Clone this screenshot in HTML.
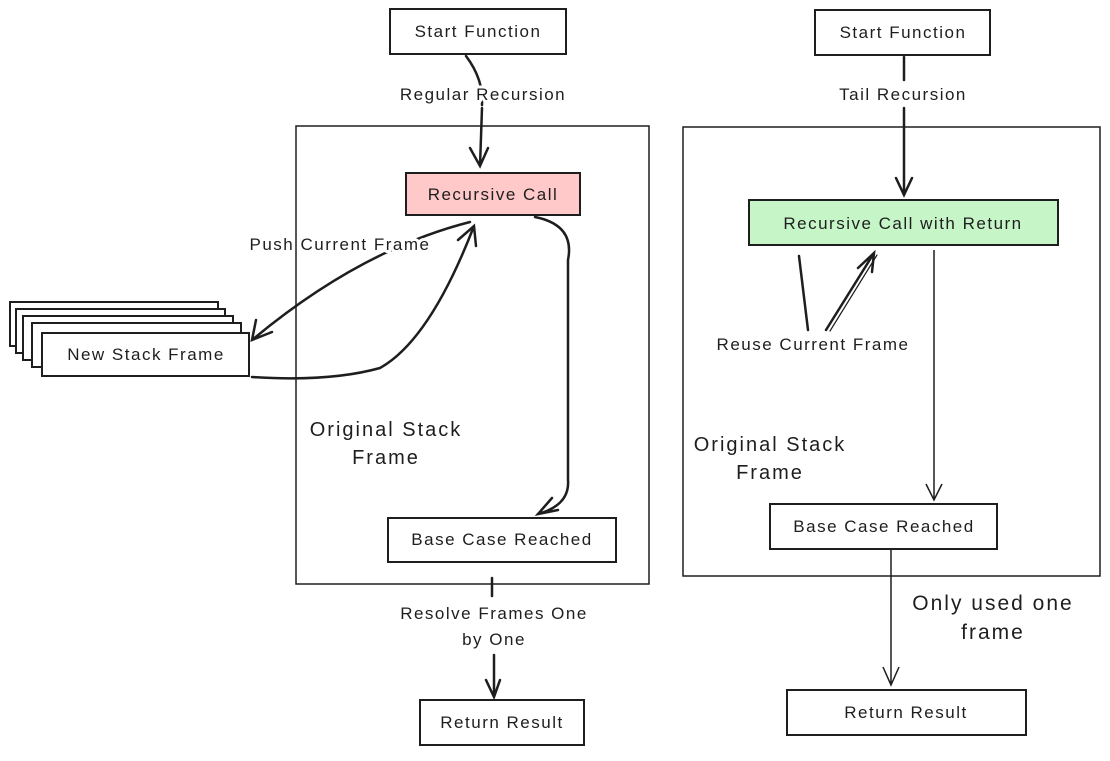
<!DOCTYPE html>
<html><head><style>
body{margin:0;background:#fff}
text{font-family:"Liberation Sans",sans-serif;fill:#1e1e1e;font-size:17px;letter-spacing:1.5px;text-anchor:middle}
.lbl{stroke:#fff;stroke-width:6px;paint-order:stroke;stroke-linejoin:round}
.big{font-size:20px;letter-spacing:2px}
</style></head><body>
<svg width="1110" height="756" viewBox="0 0 1110 756" xmlns="http://www.w3.org/2000/svg">
<g fill="#fff" stroke="#1e1e1e" stroke-width="2">
<rect x="296" y="126" width="353" height="458" fill="none" stroke-width="1.5"/>
<rect x="683" y="127" width="417" height="449" fill="none" stroke-width="1.5"/>
<rect x="390" y="9" width="176" height="45"/>
<rect x="406" y="173" width="174" height="42" fill="#ffc9c9"/>
<rect x="10" y="302" width="208" height="44"/>
<rect x="16" y="309" width="209" height="44"/>
<rect x="23" y="316" width="210" height="44"/>
<rect x="32" y="323" width="209" height="44"/>
<rect x="42" y="333" width="207" height="43"/>
<rect x="388" y="518" width="228" height="44"/>
<rect x="420" y="700" width="164" height="45"/>
<rect x="815" y="10" width="175" height="45"/>
<rect x="749" y="200" width="309" height="45" fill="#c6f6c8"/>
<rect x="770" y="504" width="227" height="45"/>
<rect x="787" y="690" width="239" height="45"/>
</g>
<g fill="none" stroke="#1e1e1e" stroke-width="2.5" stroke-linecap="round">
<path d="M466 56 Q484 80 482 105"/><path d="M482 108 L480 166 M470 148 L480 166 L488 148"/>
<path d="M470 222 Q360 250 252 340 M256 320 L252 340 L272 332"/>
<path d="M252 377 Q330 382 380 368 Q430 340 474 226 M458 240 L474 226 L476 246"/>
<path d="M535 217 Q575 225 568 260 L568 480 Q570 505 538 514 M552 498 L538 514 L558 510"/>
<path d="M492 578 L492 596 M494 655 L494 697 M486 680 L494 697 L500 680"/>
<path d="M904 57 L904 80 M904 108 L904 195 M896 178 L904 195 L912 178"/>
<path d="M799 256 L808 330"/>
<path d="M826 330 L874 253 M858 268 L874 253 L872 272"/><path d="M830 331 L877 255" stroke-width="1.2"/>
</g>
<g fill="none" stroke="#1e1e1e" stroke-width="1.5">
<path d="M934 250 L934 500 M926 484 L934 500 L942 484"/>
<path d="M891 550 L891 685 M883 667 L891 685 L899 667"/>
</g>
<text x="478" y="37">Start Function</text>
<text class="lbl" x="483" y="100">Regular Recursion</text>
<text x="493" y="200">Recursive Call</text>
<text class="lbl" x="340" y="250">Push Current Frame</text>
<text x="146" y="360">New Stack Frame</text>
<text class="big" x="386" y="436">Original Stack</text>
<text class="big" x="386" y="464">Frame</text>
<text x="502" y="545">Base Case Reached</text>
<text class="lbl" x="494" y="619">Resolve Frames One</text>
<text class="lbl" x="494" y="645">by One</text>
<text x="502" y="728">Return Result</text>
<text x="903" y="38">Start Function</text>
<text class="lbl" x="903" y="100">Tail Recursion</text>
<text x="903" y="229">Recursive Call with Return</text>
<text class="lbl" x="813" y="350">Reuse Current Frame</text>
<text class="big" x="770" y="451">Original Stack</text>
<text class="big" x="770" y="479">Frame</text>
<text x="884" y="532">Base Case Reached</text>
<text x="993" y="610" style="font-size:21px;letter-spacing:2px">Only used one</text>
<text x="993" y="639" style="font-size:21px;letter-spacing:2px">frame</text>
<text x="906" y="718">Return Result</text>
</svg>
</body></html>
